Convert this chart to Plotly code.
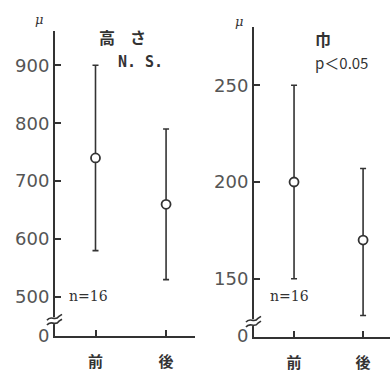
import plotly.graph_objects as go

categories = ["前", "後"]

# 高さ (height), μ
height_mean = [740, 660]
height_upper = [900, 790]
height_lower = [580, 530]

# 巾 (width), μ
width_mean = [200, 170]
width_upper = [250, 207]
width_lower = [150, 131]

left_ticks = [500, 600, 700, 800, 900]
right_ticks = [150, 200, 250]

W, H = 390, 374
LINE = "#333333"
TXT = "#555555"

def px_x(p):
    return p / W

def px_y(p):
    return 1 - p / H

fig = go.Figure()

def add_panel(mean, upper, lower, xa, ya):
    fig.add_trace(go.Scatter(
        x=categories, y=mean, mode="markers",
        xaxis=xa, yaxis=ya,
        marker=dict(symbol="circle", size=9, color="white",
                    line=dict(color=LINE, width=1.8)),
        error_y=dict(type="data", symmetric=False,
                     array=[u - m for u, m in zip(upper, mean)],
                     arrayminus=[m - l for m, l in zip(mean, lower)],
                     color=LINE, thickness=1.6, width=3),
        showlegend=False, hoverinfo="skip", cliponaxis=False,
    ))

add_panel(height_mean, height_upper, height_lower, "x", "y")
add_panel(width_mean, width_upper, width_lower, "x2", "y2")

left_bottom, left_top = 433, 959
right_bottom, right_top = 120, 280

axis_common = dict(showline=True, linecolor=LINE, linewidth=2, showgrid=False,
                   zeroline=False, ticks="inside", ticklen=6, tickwidth=1.6,
                   tickcolor=LINE, fixedrange=True)

xfont = dict(family="Noto Sans CJK JP", size=15, color="#333", weight="bold")
yfont = dict(family="DejaVu Sans", size=18, color=TXT)

fig.update_layout(
    width=W, height=H, margin=dict(l=0, r=0, t=0, b=0),
    paper_bgcolor="white", plot_bgcolor="white",
    xaxis=dict(domain=[px_x(55), px_x(195)], range=[-0.574, 1.41], type="category",
               anchor="y", tickfont=xfont, ticklabelstandoff=11, **axis_common),
    yaxis=dict(domain=[px_y(345), px_y(32)], range=[left_bottom, left_top], anchor="x",
               tickvals=[left_bottom + 0.5] + left_ticks,
               ticktext=["0"] + [str(v) for v in left_ticks],
               tickfont=yfont, ticklabelstandoff=0, **axis_common),
    xaxis2=dict(domain=[px_x(254), 1.0], range=[-0.58, 1.39], type="category",
                anchor="y2", tickfont=xfont, ticklabelstandoff=11, **axis_common),
    yaxis2=dict(domain=[px_y(346), px_y(28)], range=[right_bottom, right_top], anchor="x2",
                tickvals=[right_bottom + 0.3] + right_ticks,
                ticktext=["0"] + [str(v) for v in right_ticks],
                tickfont=yfont, ticklabelstandoff=0, **axis_common),
)

def ann(text, x, y, size, family, color="#333", bold=False, italic=False):
    fig.add_annotation(
        text=("<b>%s</b>" % text) if bold else (("<i>%s</i>" % text) if italic else text),
        x=px_x(x), y=px_y(y), xref="paper", yref="paper",
        xanchor="center", yanchor="middle", showarrow=False,
        font=dict(family=family, size=size, color=color),
    )

ann("μ", 39, 20, 13, "DejaVu Serif", italic=True)
ann("μ", 239, 22, 13, "DejaVu Serif", italic=True)
ann("高", 107, 38, 16, "Noto Sans CJK JP", bold=True)
ann("さ", 138, 38, 16, "Noto Sans CJK JP", bold=True)
ann("N. S.", 140, 64, 15, "DejaVu Sans Mono", bold=True)
ann("巾", 323, 40, 16, "Noto Sans CJK JP", bold=True)
ann("p＜0.05", 341, 64, 15, "Noto Sans CJK JP")
ann("n=16", 88, 304, 14, "DejaVu Serif")
ann("n=16", 289, 304, 14, "DejaVu Serif")

# axis break marks (drawn in pixel space converted to paper)
def P(x, y):
    return "%.5f,%.5f" % (px_x(x), px_y(y))

def add_break(ax, yc):
    fig.add_shape(type="rect", xref="paper", yref="paper",
                  x0=px_x(ax - 3), x1=px_x(ax + 3), y0=px_y(yc + 3), y1=px_y(yc - 4),
                  fillcolor="white", line=dict(width=0), layer="above")
    for dy in (-3, 2):
        y = yc + dy
        path = ("M " + P(ax - 8, y + 2) + " C " + P(ax - 4, y - 4) + " " +
                P(ax + 0, y + 4) + " " + P(ax + 4, y - 2) + " L " + P(ax + 7, y - 4))
        fig.add_shape(type="path", xref="paper", yref="paper", path=path,
                      line=dict(color=LINE, width=1.6), layer="above")

add_break(55, 330)
add_break(254, 332)

fig.write_html("out.html")
